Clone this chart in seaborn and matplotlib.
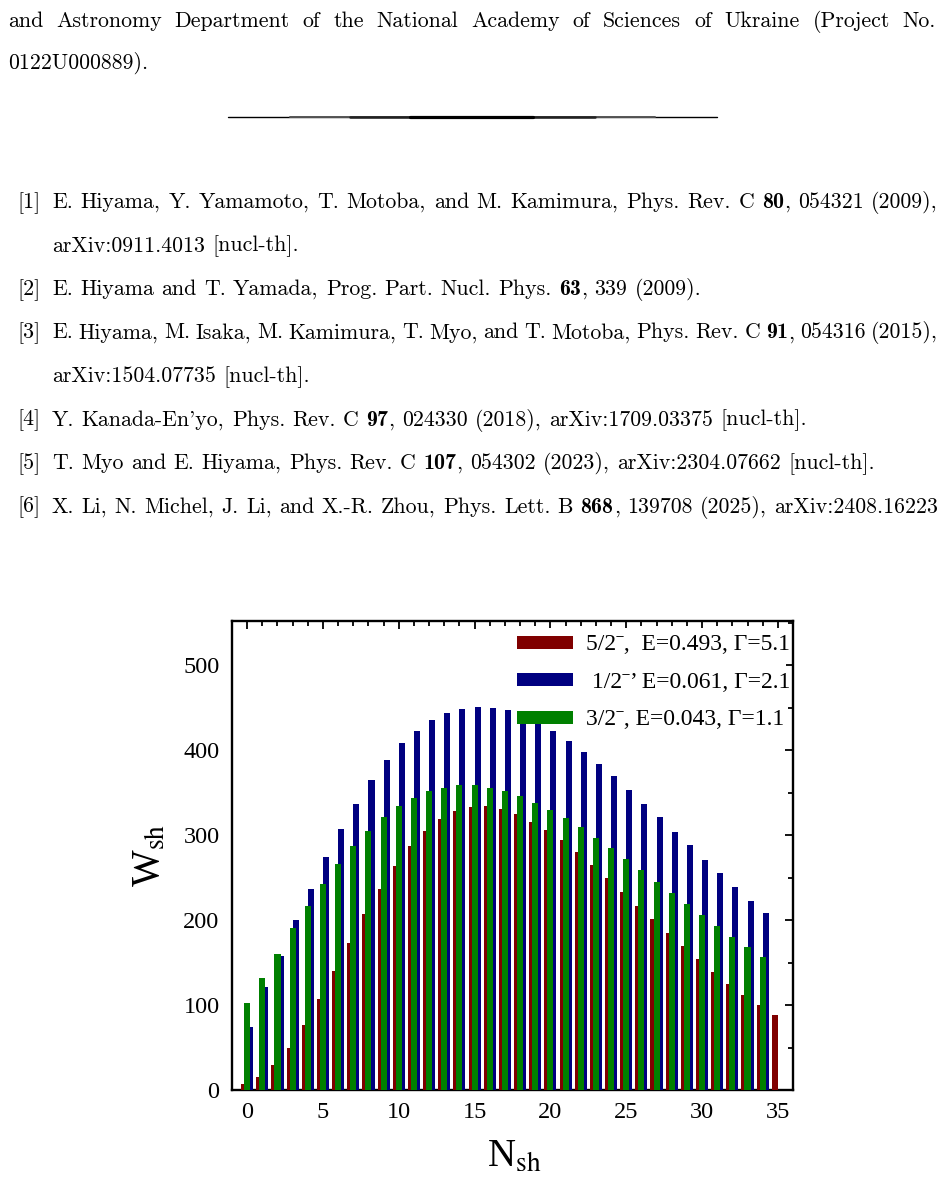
import numpy as np
import pandas as pd
import matplotlib
matplotlib.use("Agg")
import matplotlib.pyplot as plt
import seaborn as sns
from matplotlib.ticker import MultipleLocator
from matplotlib.lines import Line2D
from matplotlib.patches import Rectangle
from matplotlib.font_manager import FontProperties

# ---------------- data ----------------
n_52 = list(range(0, 36))
w_52 = [7, 15, 29, 50, 76, 107, 140, 173, 207, 237,
        264, 287, 305, 319, 328, 333, 334, 331, 325, 316,
        306, 294, 280, 265, 249, 233, 217, 201, 185, 169,
        154, 139, 125, 112, 100, 88]
n_12 = list(range(0, 35))
w_12 = [74, 121, 158, 200, 237, 274, 307, 337, 365, 388,
        408, 423, 435, 444, 449, 451, 450, 447, 441, 432,
        422, 411, 398, 384, 369, 353, 337, 321, 304, 288,
        271, 255, 239, 223, 208]
n_32 = list(range(0, 35))
w_32 = [102, 132, 160, 191, 217, 243, 266, 287, 305, 321,
        334, 344, 352, 356, 359, 359, 356, 352, 346, 338,
        330, 320, 309, 297, 285, 272, 259, 245, 232, 219,
        206, 193, 180, 168, 156]
labels = ["5/2ˉ,  E=0.493, Γ=5.1",
          " 1/2ˉ’ E=0.061, Γ=2.1",
          "3/2ˉ, E=0.043, Γ=1.1"]
colors = ["#800000", "#000080", "#008000"]
offsets = [-0.2, 0.2, 0.0]
x_ticks_major, x_ticks_minor = 5, 1
y_ticks_major, y_ticks_minor = 100, 50

page_lines = [
    ("and Astronomy Department of the National Academy of Sciences of Ukraine (Project No.", 8, 27, 936),
    ("0122U000889).", 8, 69, None),
]
refs = [
    ("[1]", ["E. Hiyama, Y. Yamamoto, T. Motoba, and M. Kamimura, Phys. Rev. C *80*, 054321 (2009),",
             "arXiv:0911.4013 [nucl-th]."]),
    ("[2]", ["E. Hiyama and T. Yamada, Prog. Part. Nucl. Phys. *63*, 339 (2009)."]),
    ("[3]", ["E. Hiyama, M. Isaka, M. Kamimura, T. Myo, and T. Motoba, Phys. Rev. C *91*, 054316 (2015),",
             "arXiv:1504.07735 [nucl-th]."]),
    ("[4]", ["Y. Kanada-En'yo, Phys. Rev. C *97*, 024330 (2018), arXiv:1709.03375 [nucl-th]."]),
    ("[5]", ["T. Myo and E. Hiyama, Phys. Rev. C *107*, 054302 (2023), arXiv:2304.07662 [nucl-th]."]),
    ("[6]", ["X. Li, N. Michel, J. Li, and X.-R. Zhou, Phys. Lett. B *868*, 139708 (2025), arXiv:2408.16223"]),
]

# ---------------- style ----------------
sns.set_style("white")
SERIF = ["Liberation Serif", "DejaVu Serif"]
plt.rcParams["font.family"] = SERIF
plt.rcParams["mathtext.fontset"] = "stix"

W, H = 943, 1188
fig = plt.figure(figsize=(W / 100, H / 100), dpi=100)
fig.patch.set_facecolor("white")
renderer = fig.canvas.get_renderer()


def fx(x):
    return x / W


def fy(y):
    return 1 - y / H


# ---------------- chart ----------------
ax = fig.add_axes([fx(232), 1 - 1090 / H, 561 / W, 469 / H])
series = [(n_52, w_52), (n_12, w_12), (n_32, w_32)]
for (n, w), lab, col, off in zip(series, labels, colors, offsets):
    df = pd.DataFrame({"N": np.array(n, dtype=float) + off, "W": w})
    sns.barplot(data=df, x="N", y="W", native_scale=True, width=0.4,
                color=col, saturation=1, linewidth=0, errorbar=None,
                ax=ax, label=lab, zorder=3)

ax.set_xlim(-1, 36)
ax.set_ylim(0, 552)
ax.xaxis.set_major_locator(MultipleLocator(x_ticks_major))
ax.xaxis.set_minor_locator(MultipleLocator(x_ticks_minor))
ax.yaxis.set_major_locator(MultipleLocator(y_ticks_major))
ax.yaxis.set_minor_locator(MultipleLocator(y_ticks_minor))
ax.tick_params(which="both", direction="in", top=True, right=True,
               width=1.3, color="black")
ax.tick_params(which="major", length=6, labelsize=17.5, pad=9,
               labelfontfamily="Liberation Serif", labelcolor="black")
ax.tick_params(which="minor", length=3.5)
for s in ax.spines.values():
    s.set_linewidth(1.7)
    s.set_color("black")
    s.set_visible(True)

# white area behind the legend
ax.add_patch(Rectangle((0.5045, 0.7825), 0.483, 0.2025, transform=ax.transAxes,
                       facecolor="white", edgecolor="none", zorder=3.5))

lblprop = FontProperties(family=SERIF, size=28, math_fontfamily="stix")
ax.set_ylabel("W$_{\\mathrm{sh}}$", fontproperties=lblprop, color="black")
ax.set_xlabel("N$_{\\mathrm{sh}}$", fontproperties=lblprop, color="black")
ax.yaxis.set_label_coords(-0.112, 0.5)
ax.xaxis.set_label_coords(0.504, -0.105)

legprop = FontProperties(family=SERIF, size=17)
leg = ax.legend(loc="upper right", bbox_to_anchor=(1.014, 0.994), frameon=False,
                prop=legprop, handlelength=2.35, handleheight=0.47,
                handletextpad=0.55, labelspacing=0.7, borderaxespad=0.0,
                borderpad=0.45)
leg.set_zorder(5)
for t in leg.get_texts():
    t.set_color("black")

# ---------------- page text ----------------
def split_word(wd):
    parts = wd.split("*")
    return [(p, i % 2 == 1) for i, p in enumerate(parts) if p]


def make_word(wd, fs):
    segs = []
    for txt, bold in split_word(wd):
        a = fig.text(0, 0, txt, fontsize=fs, family="cmb10" if bold else "cmr10",
                     va="baseline", ha="left", color="black")
        segs.append((a, a.get_window_extent(renderer).width))
    width = sum(w for _, w in segs) + 0.3 * (len(segs) - 1)
    return segs, width


def make_words(s, fs):
    words = [make_word(wd, fs) for wd in s.split(" ")]
    return words


def natural_width(s, fs):
    words = make_words(s, fs)
    for segs, _ in words:
        for a, _ in segs:
            a.remove()
    return sum(w for _, w in words) + 0.333 * fs * 100 / 72 * (len(words) - 1)


fs0 = 14
fs = fs0 * 886 / natural_width(refs[5][1][0], fs0)


def draw_line(s, x0, y, x1=None):
    words = make_words(s, fs)
    total = sum(w for _, w in words)
    if x1 is None or len(words) < 2:
        gap = 0.333 * fs * 100 / 72
    else:
        gap = (x1 - x0 - total) / (len(words) - 1)
    x = x0
    for segs, wwidth in words:
        xs = x
        for a, sw in segs:
            a.set_position((fx(xs), fy(y)))
            xs += sw + 0.3
        x += wwidth + gap


for s, x0, y, x1 in page_lines:
    draw_line(s, x0, y, x1)

# horizontal rule
rule_y = fy(117)
for xa, xb, col, lw in [(228, 717, "black", 1.0), (290, 655, "#555555", 1.4),
                        (350, 595, "#222222", 1.8), (410, 533, "black", 2.3)]:
    fig.add_artist(Line2D([fx(xa), fx(xb)], [rule_y, rule_y], color=col, lw=lw,
                          transform=fig.transFigure))

y = 208
just = {0: 938, 2: 938}
for i, (tag, lines) in enumerate(refs):
    draw_line(tag, 17, y)
    for j, ln in enumerate(lines):
        x1 = just.get(i) if (j == 0 and len(lines) > 1) else None
        draw_line(ln, 52, y, x1)
        y += 43.5

fig.savefig("out.png", dpi=100, facecolor="white")
